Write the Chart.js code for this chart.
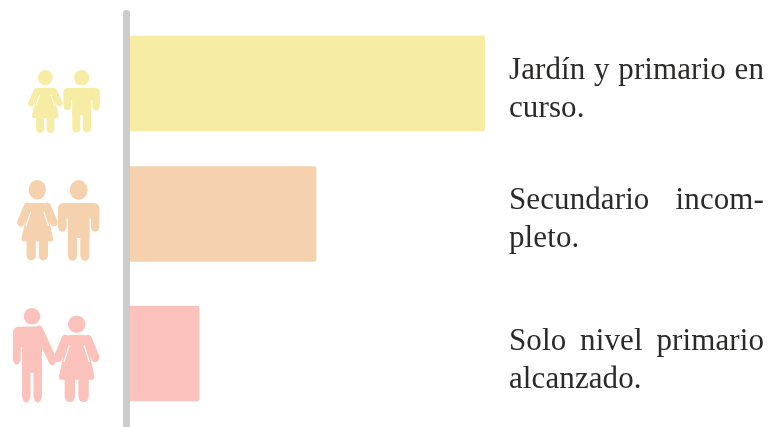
<!DOCTYPE html>
<html>
<head>
<meta charset="utf-8">
<script src="https://cdn.jsdelivr.net/npm/chart.js@4"></script>
<style>
    html, body { margin: 0; padding: 0; background: #fff; }
    #wrap { position: relative; width: 770px; height: 427px; overflow: hidden; }
    .rowText { position: absolute; left: 509px; width: 255px; font: 31px/38px "Liberation Serif", serif; color: #2b2a29; letter-spacing: 0.1px; }
    .rowText div { text-align: left; }
    .rowText div.just { text-align: justify; text-align-last: justify; }
</style>
</head>
<body>
<div id="wrap"><canvas id="myChart" width="770" height="427"></canvas></div>
<script>
const categories = [
    ['Jardín y primario en', 'curso.'],
    ['Secundario incom-', 'pleto.'],
    ['Solo nivel primario', 'alcanzado.']
];
const values = [58, 30.4, 11.3];

// layout only, not data
const colors = ['#f6eca3', '#f5d1ad', '#fbc1bb'];
const rowCenters = [83.5, 214, 353.5];
const textOffset = [-34, -34.5, -33];
// icons, measured from the row center: head top and radii, body top, body height, width
const icons = [
    [{ type: 'woman', cx: 45.3, top: -13.5, rx: 7.4, ry: 7.6, body: 4.5, h: 44.5, w: 34 },
     { type: 'man', cx: 81.7, top: -13.5, rx: 7.6, ry: 7.7, body: 4.5, h: 44, w: 36 }],
    [{ type: 'woman', cx: 37.3, top: -34, rx: 8.6, ry: 9.8, body: -11, h: 57, w: 40 },
     { type: 'man', cx: 78.7, top: -34, rx: 9, ry: 10, body: -11, h: 57, w: 41 }],
    [{ type: 'man2', cx: 32, top: -45.5, rx: 8.3, ry: 8.3, body: -26.8, h: 75, w: 38 },
     { type: 'woman', cx: 76.7, top: -38, rx: 8.7, ry: 8.7, body: -18.5, h: 66.5, w: 45 }]
];

function roundLine(ctx, x1, y1, x2, y2, width) {
    ctx.lineWidth = width;
    ctx.lineCap = 'round';
    ctx.beginPath();
    ctx.moveTo(x1, y1);
    ctx.lineTo(x2, y2);
    ctx.stroke();
}

function drawMan(ctx, slanted) {
    // body in a 36x44 box, x from the middle
    ctx.beginPath();
    ctx.roundRect(-18, 0, slanted ? 28 : 36, 12, [5, 5, 0, 0]);
    ctx.fill();
    ctx.fillRect(-9.5, 0, 19, 27);
    roundLine(ctx, -14.4, 4, -14.4, 18.5, 7.4);
    if (slanted) {
        roundLine(ctx, 7, 3, 19, 19, 7.4);
    } else {
        roundLine(ctx, 14.4, 4, 14.4, 18.5, 7.4);
    }
    roundLine(ctx, -5.4, 22, -5.4, 40.5, 8);
    roundLine(ctx, 5.4, 22, 5.4, 40.5, 8);
}

function drawWoman(ctx) {
    // body in a 34x44.5 box, x from the middle
    ctx.beginPath();
    ctx.roundRect(-9, 0, 18, 6, [4, 4, 0, 0]);
    ctx.fill();
    ctx.beginPath();
    ctx.moveTo(-7, 1);
    ctx.lineTo(7, 1);
    ctx.lineTo(13.5, 28);
    ctx.quadraticCurveTo(13.5, 30, 12, 30);
    ctx.lineTo(-12, 30);
    ctx.quadraticCurveTo(-13.5, 30, -13.5, 28);
    ctx.closePath();
    ctx.fill();
    roundLine(ctx, -8.5, 3, -14, 15, 6.4);
    roundLine(ctx, 8.5, 3, 14, 15, 6.4);
    roundLine(ctx, -5.2, 28, -5.2, 41, 7.8);
    roundLine(ctx, 5.2, 28, 5.2, 41, 7.8);
    // slits between arms and dress
    ctx.strokeStyle = '#ffffff';
    ctx.lineCap = 'butt';
    ctx.lineWidth = 0.9;
    ctx.beginPath();
    ctx.moveTo(-5.6, 7);
    ctx.lineTo(-9.6, 18);
    ctx.moveTo(5.6, 7);
    ctx.lineTo(9.6, 18);
    ctx.stroke();
}

const peoplePlugin = {
    id: 'people',
    beforeDatasetsDraw(chart) {
        const ctx = chart.ctx;
        const left = chart.chartArea.left;
        // grey rail along the axis
        ctx.save();
        ctx.fillStyle = '#cccccc';
        ctx.beginPath();
        ctx.roundRect(left - 7, 10, 7, 430, [3, 3, 0, 0]);
        ctx.fill();
        ctx.restore();

        icons.forEach(function(row, i) {
            const center = chart.scales.y.getPixelForValue(rowCenters[i]);
            row.forEach(function(p) {
                const isMan = p.type !== 'woman';
                ctx.save();
                ctx.fillStyle = colors[i];
                ctx.strokeStyle = colors[i];
                ctx.beginPath();
                ctx.ellipse(p.cx, center + p.top + p.ry, p.rx, p.ry, 0, 0, Math.PI * 2);
                ctx.fill();
                ctx.translate(p.cx, center + p.body);
                ctx.scale(p.w / (isMan ? 36 : 34), p.h / (isMan ? 44 : 44.5));
                if (isMan) {
                    drawMan(ctx, p.type === 'man2');
                } else {
                    drawWoman(ctx);
                }
                ctx.restore();
            });
        });
    }
};

const chart = new Chart(document.getElementById('myChart'), {
    type: 'bar',
    data: {
        datasets: [{
            data: values.map(function(v, i) { return { x: v, y: rowCenters[i] }; }),
            backgroundColor: colors,
            barThickness: 95,
            borderRadius: { topRight: 2, bottomRight: 2, topLeft: 0, bottomLeft: 0 },
            borderSkipped: false
        }]
    },
    options: {
        indexAxis: 'y',
        responsive: false,
        animation: false,
        layout: { padding: { left: 130, right: 285, top: 0, bottom: 0 } },
        plugins: { legend: { display: false }, tooltip: { enabled: false } },
        scales: {
            x: { type: 'linear', min: 0, max: 58, display: false },
            y: { type: 'linear', min: 0, max: 427, reverse: true, display: false, offset: false }
        }
    },
    plugins: [peoplePlugin]
});

categories.forEach(function(lines, i) {
    const box = document.createElement('div');
    box.className = 'rowText';
    box.style.top = (chart.scales.y.getPixelForValue(rowCenters[i]) + textOffset[i]) + 'px';
    lines.forEach(function(line, j) {
        const el = document.createElement('div');
        el.textContent = line;
        if (j === 0) el.className = 'just';
        box.appendChild(el);
    });
    document.getElementById('wrap').appendChild(box);
});
</script>
</body>
</html>
